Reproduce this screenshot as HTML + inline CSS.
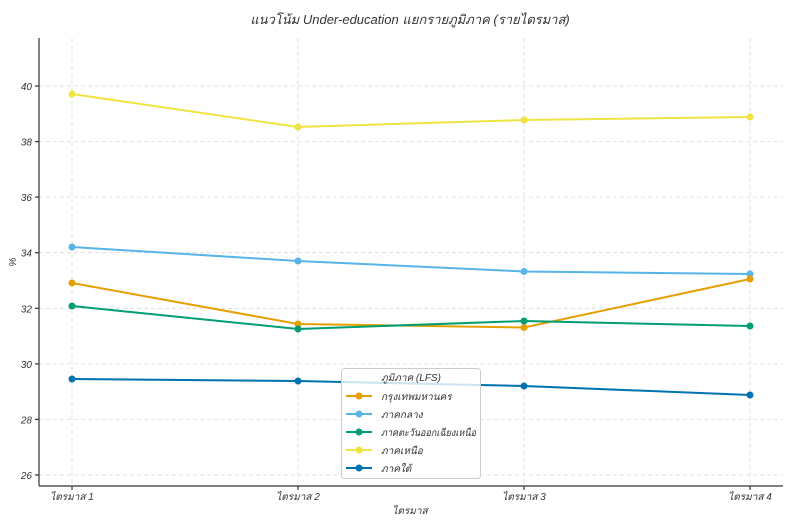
<!DOCTYPE html>
<html><head><meta charset="utf-8"><style>
body{margin:0;background:#fff}
svg text{font-family:"Liberation Sans","Noto Sans CJK SC",sans-serif;font-style:italic;fill:#333}
</style></head><body>
<svg width="793" height="527" xmlns="http://www.w3.org/2000/svg">
<rect width="793" height="527" fill="#fff"/>
<text x="410" y="24" font-size="13" text-anchor="middle">แนวโน้ม Under-education แยกรายภูมิภาค (รายไตรมาส)</text>
<g stroke="#d9d9d9" stroke-dasharray="4,3" stroke-width="0.8">
<line x1="72" y1="38" x2="72" y2="486"/><line x1="298" y1="38" x2="298" y2="486"/>
<line x1="524" y1="38" x2="524" y2="486"/><line x1="750" y1="38" x2="750" y2="486"/>
<line x1="39" y1="86" x2="783" y2="86"/><line x1="39" y1="141.6" x2="783" y2="141.6"/>
<line x1="39" y1="197.1" x2="783" y2="197.1"/><line x1="39" y1="252.7" x2="783" y2="252.7"/>
<line x1="39" y1="308.3" x2="783" y2="308.3"/><line x1="39" y1="363.9" x2="783" y2="363.9"/>
<line x1="39" y1="419.4" x2="783" y2="419.4"/><line x1="39" y1="475" x2="783" y2="475"/>
</g>
<g stroke="#333" stroke-width="1.2"><line x1="39" y1="38" x2="39" y2="486"/><line x1="39" y1="486" x2="783" y2="486"/>
<line x1="35" y1="86" x2="39" y2="86"/><line x1="35" y1="141.6" x2="39" y2="141.6"/><line x1="35" y1="197.1" x2="39" y2="197.1"/><line x1="35" y1="252.7" x2="39" y2="252.7"/><line x1="35" y1="308.3" x2="39" y2="308.3"/><line x1="35" y1="363.9" x2="39" y2="363.9"/><line x1="35" y1="419.4" x2="39" y2="419.4"/><line x1="35" y1="475" x2="39" y2="475"/>
<line x1="72" y1="486" x2="72" y2="490"/><line x1="298" y1="486" x2="298" y2="490"/><line x1="524" y1="486" x2="524" y2="490"/><line x1="750" y1="486" x2="750" y2="490"/>
</g>
<g font-size="10" text-anchor="end">
<text x="32" y="90">40</text><text x="32" y="145.6">38</text><text x="32" y="201.1">36</text><text x="32" y="256.7">34</text>
<text x="32" y="312.3">32</text><text x="32" y="367.9">30</text><text x="32" y="423.4">28</text><text x="32" y="479">26</text>
</g>
<g font-size="10" text-anchor="middle">
<text x="72" y="500">ไตรมาส 1</text><text x="298" y="500">ไตรมาส 2</text><text x="524" y="500">ไตรมาส 3</text><text x="750" y="500">ไตรมาส 4</text>
<text x="410" y="514">ไตรมาส</text>
</g>
<text x="16" y="262" font-size="10" text-anchor="middle" transform="rotate(-90 16 262)">%</text>
<g fill="none" stroke-width="2">
<polyline stroke="#f0e442" points="72,94 298,127 524,120 750,117"/>
<polyline stroke="#56b4e9" points="72,247 298,261 524,271.5 750,274"/>
<polyline stroke="#e69f00" points="72,283 298,324 524,327.5 750,279"/>
<polyline stroke="#009e73" points="72,306 298,329 524,321 750,326"/>
<polyline stroke="#0072b2" points="72,379 298,381 524,386 750,395"/>
</g>
<g>
<g fill="#f0e442"><circle cx="72" cy="94" r="3.5"/><circle cx="298" cy="127" r="3.5"/><circle cx="524" cy="120" r="3.5"/><circle cx="750" cy="117" r="3.5"/></g>
<g fill="#56b4e9"><circle cx="72" cy="247" r="3.5"/><circle cx="298" cy="261" r="3.5"/><circle cx="524" cy="271.5" r="3.5"/><circle cx="750" cy="274" r="3.5"/></g>
<g fill="#e69f00"><circle cx="72" cy="283" r="3.5"/><circle cx="298" cy="324" r="3.5"/><circle cx="524" cy="327.5" r="3.5"/><circle cx="750" cy="279" r="3.5"/></g>
<g fill="#009e73"><circle cx="72" cy="306" r="3.5"/><circle cx="298" cy="329" r="3.5"/><circle cx="524" cy="321" r="3.5"/><circle cx="750" cy="326" r="3.5"/></g>
<g fill="#0072b2"><circle cx="72" cy="379" r="3.5"/><circle cx="298" cy="381" r="3.5"/><circle cx="524" cy="386" r="3.5"/><circle cx="750" cy="395" r="3.5"/></g>
</g>
<rect x="341.5" y="368.5" width="139" height="110" rx="3" fill="#fff" fill-opacity="0.8" stroke="#ccc"/>
<text x="411" y="381" font-size="10" text-anchor="middle">ภูมิภาค (LFS)</text>
<g stroke-width="2">
<line x1="346" y1="396" x2="372" y2="396" stroke="#e69f00"/><circle cx="359" cy="396" r="3.5" fill="#e69f00"/>
<line x1="346" y1="414" x2="372" y2="414" stroke="#56b4e9"/><circle cx="359" cy="414" r="3.5" fill="#56b4e9"/>
<line x1="346" y1="432" x2="372" y2="432" stroke="#009e73"/><circle cx="359" cy="432" r="3.5" fill="#009e73"/>
<line x1="346" y1="450" x2="372" y2="450" stroke="#f0e442"/><circle cx="359" cy="450" r="3.5" fill="#f0e442"/>
<line x1="346" y1="468" x2="372" y2="468" stroke="#0072b2"/><circle cx="359" cy="468" r="3.5" fill="#0072b2"/>
</g>
<g font-size="10">
<text x="381" y="400">กรุงเทพมหานคร</text><text x="381" y="418">ภาคกลาง</text>
<text x="381" y="436" textLength="95" lengthAdjust="spacingAndGlyphs">ภาคตะวันออกเฉียงเหนือ</text><text x="381" y="454">ภาคเหนือ</text><text x="381" y="472">ภาคใต้</text>
</g>
</svg>
</body></html>
